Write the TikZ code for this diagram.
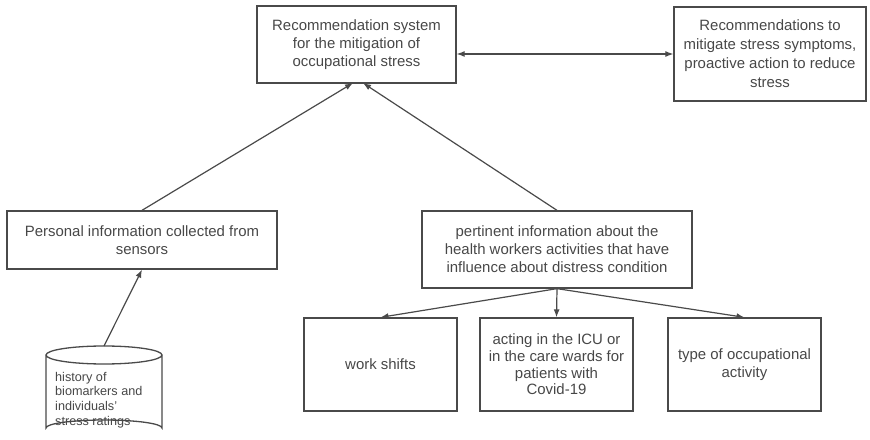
\documentclass[tikz,border=0pt]{standalone}
\usepackage{fontspec}
\setmainfont{Liberation Sans}
\usetikzlibrary{arrows.meta}
\definecolor{linegray}{HTML}{4A4A4A}
\definecolor{textgray}{HTML}{474747}
\begin{document}
\begin{tikzpicture}[x=1bp,y=-1bp,
  box/.style={draw=linegray,line width=1.3bp,rectangle,inner sep=0pt,align=center,
    text=textgray,font=\fontsize{15}{18}\selectfont},
  flow/.style={draw=linegray,line width=1.2bp,-{Latex[length=8bp,width=6bp]}},
  dflow/.style={draw=linegray,line width=1.2bp,{Latex[length=8bp,width=6bp]}-{Latex[length=8bp,width=6bp]}}]
\useasboundingbox (0,0) rectangle (870,440);

% main system and its output
\node[box,minimum width=199bp,minimum height=77bp] (top) at (356.5,44.5)
  {\rule{0pt}{4bp}Recommendation system\\for the mitigation of\\occupational stress};
\node[box,minimum width=192bp,minimum height=94bp,font=\fontsize{15}{19}\selectfont] (out) at (770,54)
  {\rule{0pt}{4bp}Recommendations to\\mitigate stress symptoms,\\proactive action to reduce\\stress};

% information sources
\node[box,minimum width=270bp,minimum height=58bp] (pers) at (142,240)
  {Personal information collected from\\sensors};
\node[box,minimum width=270bp,minimum height=77bp] (pert) at (557,249.5)
  {pertinent information about the\\health workers activities that have\\influence about distress condition};

% activity factors
\node[box,minimum width=153bp,minimum height=93bp] (work) at (380.5,364.5) {work shifts};
\node[box,minimum width=153bp,minimum height=93bp,font=\fontsize{15}{16.8}\selectfont] (icu) at (556.5,364.5)
  {acting in the ICU or\\in the care wards for\\patients with\\Covid-19};
\node[box,minimum width=153bp,minimum height=93bp] (type) at (744.5,364.5)
  {type of occupational\\activity};

% data store: cylinder drawn from two ellipse arcs
\draw[linegray,line width=1.3bp]
  (104,355) ellipse [x radius=58, y radius=9]
  (46,355) -- (46,428) arc [start angle=180, end angle=360, x radius=58, y radius=8] -- (162,355);
\coordinate (db) at (104,346);
\node[align=left,text=textgray,font=\fontsize{12.7}{14.7}\selectfont,inner sep=0pt,anchor=west] (dbtext) at (55,400)
  {history of\\biomarkers and\\individuals'\\stress ratings};

% connectors
\coordinate (inL) at (353,83);
\coordinate (inR) at (363,83);
\draw[dflow] (out.west -| top.east) -- (out.west);
\draw[flow] (pers.north) -- (inL);
\draw[flow] (pert.north) -- (inR);
\draw[flow] (db) -- (pers.south);
\draw[flow] (pert.south) -- (work.north);
\draw[flow] (pert.south) -- (icu.north);
\draw[flow] (pert.south) -- (type.north);
\end{tikzpicture}
\end{document}
